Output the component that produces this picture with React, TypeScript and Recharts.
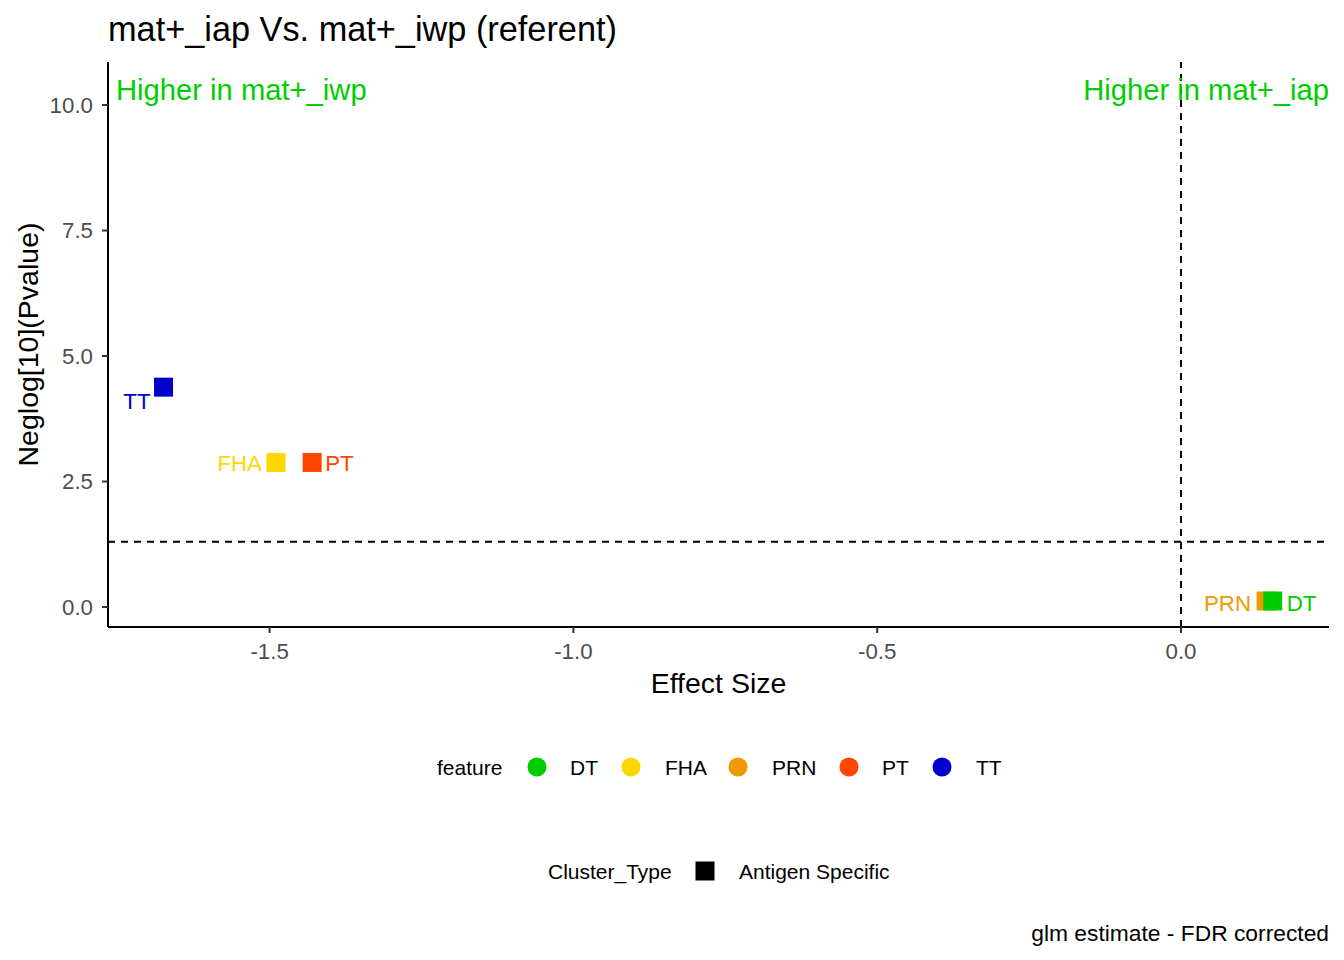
import React from 'react';
import { ScatterChart, Scatter, XAxis, YAxis, ReferenceLine } from 'recharts';

// ---- data ----
const features = ['DT', 'FHA', 'PRN', 'PT', 'TT'];
const effectSize = [0.151, -1.4895, 0.14, -1.43, -1.6746];
const negLogP = [0.12, 2.88, 0.12, 2.88, 4.38];
const featureColors = ['#00CD00', '#FFD700', '#EE9A00', '#FF4500', '#0000CD'];
const drawOrder = ['PRN', 'FHA', 'PT', 'TT', 'DT'];
const xTicks = [-1.5, -1.0, -0.5, 0.0];
const yTicks = [0, 2.5, 5, 7.5, 10];
const xDomain = [-1.766, 0.2436];
const yDomain = [-0.398, 10.857];
const pThreshold = -Math.log10(0.05);
const titleText = 'mat+_iap Vs. mat+_iwp (referent)';
const leftNote = 'Higher in mat+_iwp';
const rightNote = 'Higher in mat+_iap';
const xTitle = 'Effect Size';
const yTitle = 'Neglog[10](Pvalue)';
const legendTitle1 = 'feature';
const legendTitle2 = 'Cluster_Type';
const clusterTypes = ['Antigen Specific'];
const captionText = 'glm estimate - FDR corrected';

// ---- styles ----
const FONT = '"Liberation Sans", Arial, Helvetica, sans-serif';
const GREEN = '#00CD00';
const labelStyle: Record<string, { dx: number; dy: number; anchor: 'start' | 'end' }> = {
  TT: { dx: -13, dy: 14, anchor: 'end' },
  FHA: { dx: -14, dy: 1, anchor: 'end' },
  PT: { dx: 13, dy: 1, anchor: 'start' },
  PRN: { dx: -15, dy: 2, anchor: 'end' },
  DT: { dx: 14, dy: 2, anchor: 'start' },
};
const SQ = 19;

const seriesData = features.map((f, i) => ({
  name: f,
  color: featureColors[i],
  points: [{ x: effectSize[i], y: negLogP[i], feature: f }],
}));

const makeShape = (name: string, color: string) => (props: any) => {
  const { cx, cy } = props;
  if (cx == null || cy == null) return null;
  const ls = labelStyle[name];
  return (
    <g>
      <rect x={cx - SQ / 2} y={cy - SQ / 2} width={SQ} height={SQ} fill={color} />
      <text
        x={cx + ls.dx}
        y={cy + ls.dy + 8}
        textAnchor={ls.anchor}
        fill={color}
        fontSize={22.3}
        fontFamily={FONT}
      >
        {name}
      </text>
    </g>
  );
};

const fmt = (v: number) => v.toFixed(1);

// legend layout
const legend1X = [537, 631, 738, 849, 942];
const legend1TextX = [570, 665, 772, 882, 976];

export default function App() {
  const ordered = drawOrder.map((n) => seriesData.find((s) => s.name === n)!);
  return (
    <div style={{ position: 'absolute', left: 0, top: 0, width: 1344, height: 960, background: '#fff' }}>
      <ScatterChart
        width={1344}
        height={960}
        margin={{ top: 62, right: 15, bottom: 283, left: 0 }}
      >
        <XAxis
          type="number"
          dataKey="x"
          domain={xDomain}
          ticks={xTicks}
          allowDataOverflow
          tickFormatter={fmt}
          height={50}
          tickSize={6}
          tickMargin={10}
          axisLine={{ stroke: '#000', strokeWidth: 2 }}
          tickLine={{ stroke: '#333', strokeWidth: 2 }}
          tick={{ fill: '#4D4D4D', fontSize: 22.3, fontFamily: FONT }}
        />
        <YAxis
          type="number"
          dataKey="y"
          domain={yDomain}
          ticks={yTicks}
          allowDataOverflow
          tickFormatter={fmt}
          width={108}
          tickSize={6}
          tickMargin={9}
          axisLine={{ stroke: '#000', strokeWidth: 2 }}
          tickLine={{ stroke: '#333', strokeWidth: 2 }}
          tick={{ fill: '#4D4D4D', fontSize: 22.3, fontFamily: FONT }}
        />
        <ReferenceLine x={0} stroke="#000" strokeWidth={2} strokeDasharray="7 6" />
        <ReferenceLine y={pThreshold} stroke="#000" strokeWidth={2} strokeDasharray="7 6" />
        {ordered.map((s) => (
          <Scatter
            key={s.name}
            name={s.name}
            data={s.points}
            fill={s.color}
            isAnimationActive={false}
            shape={makeShape(s.name, s.color)}
          />
        ))}
      </ScatterChart>
      <svg
        width={1344}
        height={960}
        style={{ position: 'absolute', left: 0, top: 0, pointerEvents: 'none' }}
        fontFamily={FONT}
      >
        <text x={108} y={41} fontSize={34.3} fill="#000">{titleText}</text>
        <text x={116} y={100} fontSize={29.2} fill={GREEN}>{leftNote}</text>
        <text x={1329} y={100} fontSize={29.2} fill={GREEN} textAnchor="end">{rightNote}</text>
        <text x={718.5} y={693} fontSize={28.5} fill="#000" textAnchor="middle">{xTitle}</text>
        <text
          x={38}
          y={344.5}
          fontSize={28.5}
          fill="#000"
          textAnchor="middle"
          transform="rotate(-90 38 344.5)"
        >
          {yTitle}
        </text>
        {/* legend 1 */}
        <text x={437} y={775} fontSize={21} fill="#000">{legendTitle1}</text>
        {features.map((f, i) => (
          <g key={f}>
            <circle cx={legend1X[i]} cy={767} r={9.5} fill={featureColors[i]} />
            <text x={legend1TextX[i]} y={775} fontSize={21} fill="#000">{f}</text>
          </g>
        ))}
        {/* legend 2 */}
        <text x={548} y={879} fontSize={21} fill="#000">{legendTitle2}</text>
        <rect x={695.5} y={861.5} width={19} height={19} fill="#000" />
        <text x={739} y={879} fontSize={21} fill="#000">{clusterTypes[0]}</text>
        <text x={1329} y={941} fontSize={22.8} fill="#000" textAnchor="end">{captionText}</text>
      </svg>
    </div>
  );
}
